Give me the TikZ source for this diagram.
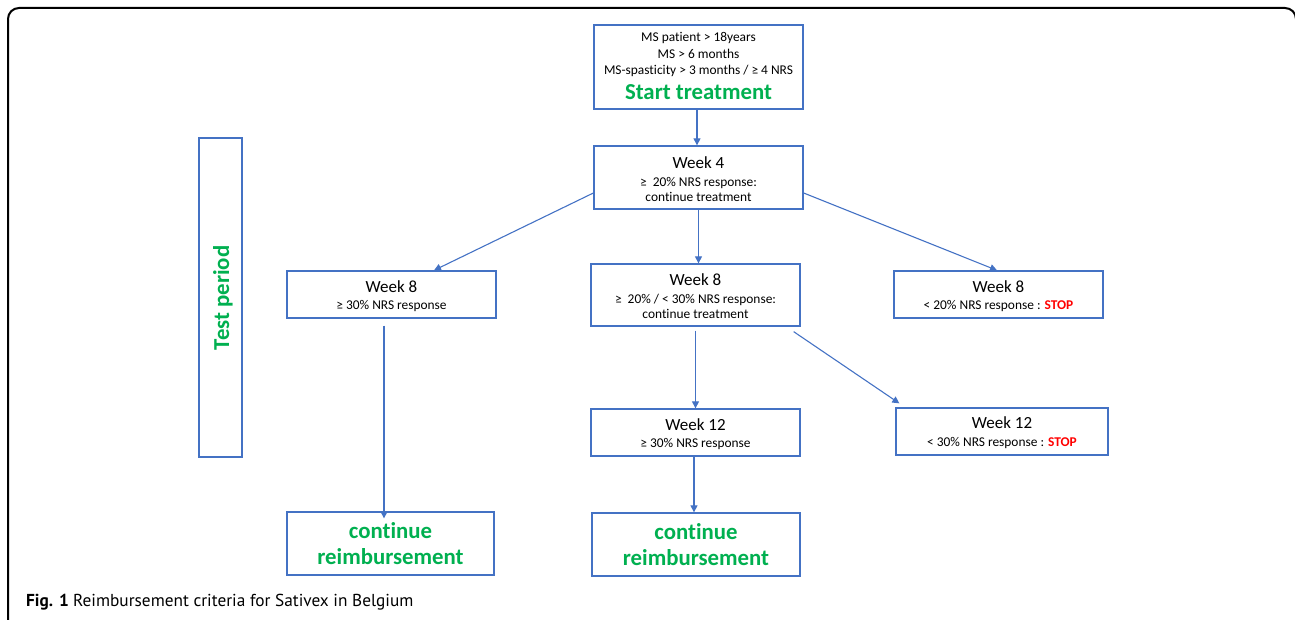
\documentclass[tikz,border=0pt]{standalone}
\usepackage{fontspec}
\setmainfont[Ligatures=NoCommon]{Carlito}
\newfontfamily\capfont{PT Sans}
\usetikzlibrary{arrows.meta,calc}
\definecolor{boxblue}{HTML}{4472C4}
\definecolor{okgreen}{HTML}{00B050}
\definecolor{stopred}{HTML}{FF0000}
\begin{document}
\begin{tikzpicture}[x=1pt,y=-1pt,
  box/.style={draw=boxblue, line width=1.3pt, fill=white, inner sep=0pt},
  arr/.style={draw=boxblue, line width=1.1pt, -{Triangle[length=7pt,width=7pt]}},
  lbl/.style={inner sep=0pt, text depth=0pt},
  wk/.style={lbl, font=\fontsize{17}{20}\selectfont},
  sm/.style={lbl, font=\fontsize{13.4}{16}\selectfont},
  bg/.style={lbl, font=\fontsize{22.8}{26}\selectfont\bfseries, text=okgreen},
]
\useasboundingbox (0,0) rectangle (1295,620);
\clip (0,0) rectangle (1295,620);
\draw[line width=2pt, rounded corners=11pt] (8,640) -- (8,8) -- (1296,8) -- (1296,640);

% boxes
\node[box, minimum width=209pt, minimum height=84pt] (start) at (698.5,67) {};
\node[box, minimum width=209pt, minimum height=63pt] (w4) at (698.5,177.5) {};
\node[box, minimum width=209pt, minimum height=47pt] (w8l) at (391.5,294.5) {};
\node[box, minimum width=209pt, minimum height=62pt] (w8m) at (695.5,295) {};
\node[box, minimum width=209pt, minimum height=47pt] (w8r) at (998.5,294.5) {};
\node[box, minimum width=209pt, minimum height=47pt] (w12m) at (695.5,432.5) {};
\node[box, minimum width=212pt, minimum height=47pt] (w12r) at (1002,431.5) {};
\node[box, minimum width=207pt, minimum height=63pt] (cl) at (390.5,543.5) {};
\node[box, minimum width=208pt, minimum height=63pt] (cm) at (696,544.5) {};
\node[box, minimum width=43pt, minimum height=319pt] (test) at (220.5,297.5) {};

% texts
\node[sm] (s1) at (698.5,37) {MS patient > 18years};
\node[sm] (s2) at (698.5,53.5) {MS > 6 months};
\node[sm] (s3) at (698.5,70) {MS-spasticity > 3 months / ≥ 4 NRS};
\node[bg] (s4) at (698.5,92) {Start treatment};

\node[wk] (t4a) at (698.5,162.5) {Week 4};
\node[sm] (t4b) at (698.5,181.5) {≥\ \ 20\% NRS response:};
\node[sm] (t4c) at (698.5,196.5) {continue treatment};

\node[wk] (t8la) at (391.5,286.5) {Week 8};
\node[sm] (t8lb) at (391.5,305) {≥ 30\% NRS response};

\node[wk] (t8ma) at (695.5,279.5) {Week 8};
\node[sm] (t8mb) at (695.5,298.5) {≥\ \ 20\% / < 30\% NRS response:};
\node[sm] (t8mc) at (695.5,313.5) {continue treatment};

\node[wk] (t8ra) at (998.5,286.5) {Week 8};
\node[sm] (t8rb) at (998.5,304.5) {< 20\% NRS response : {\bfseries\color{stopred}STOP}};

\node[wk] (t12ma) at (695.5,424.5) {Week 12};
\node[sm] (t12mb) at (695.5,443) {≥ 30\% NRS response};

\node[wk] (t12ra) at (1002,423) {Week 12};
\node[sm] (t12rb) at (1002,441.5) {< 30\% NRS response : {\bfseries\color{stopred}STOP}};

\node[bg] (cla) at (390.5,530) {continue};
\node[bg] (clb) at (390.5,556.5) {reimbursement};
\node[bg] (cma) at (696,531) {continue};
\node[bg] (cmb) at (696,557.5) {reimbursement};

\node[bg, rotate=90] (testlbl) at (221,298) {Test period};

% connectors
\draw[arr] ([xshift=-1.5pt]start.south) -- ([xshift=-1.5pt]w4.north);
\draw[arr] ([yshift=-15.5pt]w4.west) -- ([xshift=42.5pt]w8l.north);
\draw[arr] (w4.south) -- (w4.south |- w8m.north);
\draw[arr] ([yshift=-15.5pt]w4.east) -- ([xshift=-1.5pt]w8r.north);
\draw[arr] ([xshift=-7.5pt,yshift=-7pt]w8l.south) -- ([xshift=-7.5pt,yshift=-7pt]w8l.south |- cl.north);
\draw[arr] ([yshift=-4pt]w8m.south) -- (w8m.south |- w12m.north);
\draw[arr] ([xshift=-7pt,yshift=-5pt]w8m.south east) -- ([xshift=4pt,yshift=4pt]w12r.north west);
\draw[arr] ([xshift=-1.5pt]w12m.south) -- ([xshift=-1.5pt]w12m.south |- cm.north);

\node[anchor=west, inner sep=0pt] (cap) at (26,602)
  {\capfont\fontsize{17.3}{20}\selectfont\bfseries Fig. 1 \mdseries Reimbursement criteria for Sativex in Belgium};
\end{tikzpicture}
\end{document}
